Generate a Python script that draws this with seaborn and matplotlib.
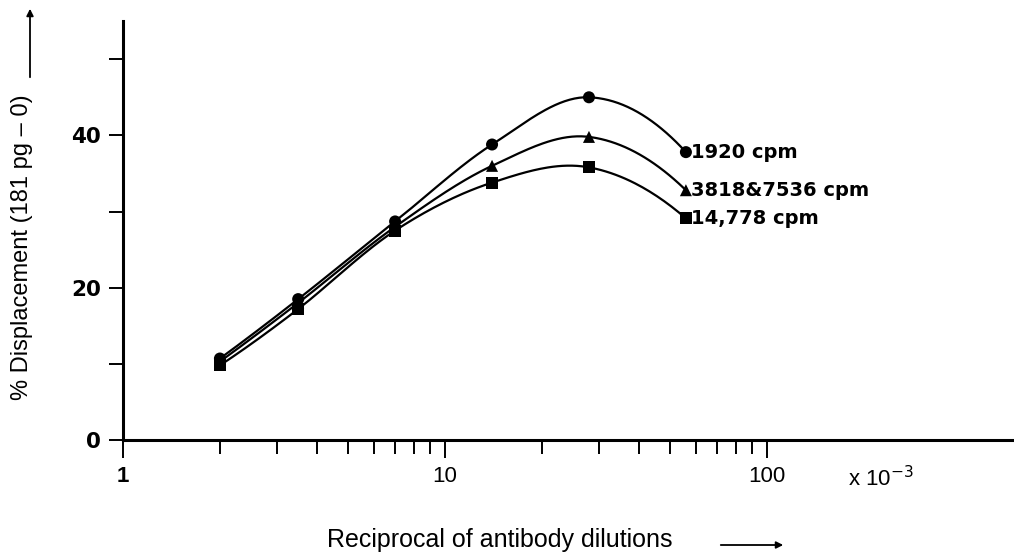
import numpy as np
import pandas as pd
import matplotlib
matplotlib.use("Agg")
import matplotlib.pyplot as plt
import seaborn as sns

# Reciprocal of antibody dilution (x 10^-3) and % displacement for each tracer count
dilution = [2, 3.5, 7, 14, 28, 56]
disp_1920 = [10.7, 18.5, 28.7, 38.8, 45.0, 37.8]
disp_3818_7536 = [10.3, 18.0, 28.0, 36.0, 39.8, 32.8]
disp_14778 = [9.8, 17.2, 27.5, 33.8, 35.8, 29.1]

series_names = ["1920 cpm", "3818&7536 cpm", "14,778 cpm"]
series_values = [disp_1920, disp_3818_7536, disp_14778]
series_markers = ["o", "^", "s"]

y_ticks = [0, 10, 20, 30, 40, 50]
y_ticklabels = ["0", "", "20", "", "40", ""]
x_ticks = [1, 10, 100]
x_ticklabels = ["1", "10", "100"]

sns.set_theme(style="white", rc={
    "text.color": "black", "axes.labelcolor": "black",
    "xtick.color": "black", "ytick.color": "black",
    "axes.edgecolor": "black",
})
plt.rcParams["font.family"] = ["Liberation Sans", "DejaVu Sans"]


def smooth_curve(x, y, n=40):
    """Catmull-Rom curve through the points, in log10(x) space,
    with quadratic end extrapolation so the end arcs keep their bend."""
    u = np.log10(np.asarray(x, float))
    v = np.asarray(y, float)
    pu = np.concatenate([[3 * u[0] - 3 * u[1] + u[2]], u,
                         [3 * u[-1] - 3 * u[-2] + u[-3]]])
    pv = np.concatenate([[3 * v[0] - 3 * v[1] + v[2]], v,
                         [3 * v[-1] - 3 * v[-2] + v[-3]]])
    out_u, out_v = [], []
    t = np.linspace(0, 1, n, endpoint=False)
    for i in range(1, len(pu) - 2):
        for arr, out in ((pu, out_u), (pv, out_v)):
            p0, p1, p2, p3 = arr[i - 1], arr[i], arr[i + 1], arr[i + 2]
            out.extend(0.5 * ((2 * p1) + (-p0 + p2) * t
                              + (2 * p0 - 5 * p1 + 4 * p2 - p3) * t ** 2
                              + (-p0 + 3 * p1 - 3 * p2 + p3) * t ** 3))
    out_u.append(u[-1])
    out_v.append(v[-1])
    return 10 ** np.array(out_u), np.array(out_v)


points = pd.DataFrame(
    [(d, val, name) for name, vals in zip(series_names, series_values)
     for d, val in zip(dilution, vals)],
    columns=["dilution", "displacement", "series"],
)

curve_rows = []
for name, vals in zip(series_names, series_values):
    cx, cy = smooth_curve(dilution, vals)
    curve_rows += [(a, b, name) for a, b in zip(cx, cy)]
curves = pd.DataFrame(curve_rows, columns=["dilution", "displacement", "series"])

fig = plt.figure(figsize=(10.14, 5.56), dpi=100)
ax = fig.add_axes([0.1213, 0.2086, 0.8787, 0.7534])

sns.lineplot(data=curves, x="dilution", y="displacement", units="series",
             estimator=None, sort=False, color="black", linewidth=1.6, ax=ax)
sns.scatterplot(data=points, x="dilution", y="displacement", style="series",
                markers=dict(zip(series_names, series_markers)),
                color="black", s=75, edgecolor="black", linewidth=0,
                legend=False, ax=ax, zorder=3)

ax.set_xscale("log")
ax.set_xlim(1, 585)
ax.set_ylim(0, 55)

for side in ("top", "right"):
    ax.spines[side].set_visible(False)
for side in ("left", "bottom"):
    ax.spines[side].set_linewidth(2.2)
    ax.spines[side].set_color("black")

ax.set_yticks(y_ticks)
ax.set_yticklabels(y_ticklabels, fontsize=15.5, fontweight="bold",
                   family=["DejaVu Sans"])
ax.set_xticks(x_ticks)
ax.set_xticklabels(x_ticklabels, fontsize=16)
ax.get_xticklabels()[0].set_fontweight("bold")
ax.xaxis.set_minor_locator(matplotlib.ticker.FixedLocator(
    [m * 10 ** e for e in (0, 1) for m in range(2, 10)]))
ax.xaxis.set_minor_formatter(matplotlib.ticker.NullFormatter())
ax.tick_params(axis="y", direction="out", length=10, width=1.4, pad=6,
               left=True)
ax.tick_params(axis="x", which="major", direction="out", length=13, width=1.4,
               pad=6, bottom=True)
ax.tick_params(axis="x", which="minor", direction="out", length=10, width=1.4,
               bottom=True)
ax.set_xlabel("")
ax.set_ylabel("")

ax.text(178, -3.4, "x 10$^{-3}$", fontsize=16, ha="left", va="top")

# Series labels next to the last points
for name, vals in zip(series_names, series_values):
    ax.annotate(name, (dilution[-1], vals[-1]), xytext=(4, 0),
                textcoords="offset points", ha="left", va="center",
                fontsize=14, fontweight="bold", family=["DejaVu Sans"])

fig.text(500 / 1014, 1 - 540 / 556, "Reciprocal of antibody dilutions",
         ha="center", va="center", fontsize=18)
fig.add_artist(matplotlib.patches.FancyArrowPatch(
    (718 / 1014, 1 - 545 / 556), (786 / 1014, 1 - 545 / 556),
    transform=fig.transFigure, arrowstyle="-|>", mutation_scale=10,
    color="black", linewidth=1.3))

fig.text(22 / 1014, 1 - 247 / 556, "% Displacement (181 pg \u2013 0)",
         rotation=90, ha="center", va="center", fontsize=17)
fig.add_artist(matplotlib.patches.FancyArrowPatch(
    (30 / 1014, 1 - 80 / 556), (30 / 1014, 1 - 6 / 556),
    transform=fig.transFigure, arrowstyle="-|>", mutation_scale=10,
    color="black", linewidth=1.3))

fig.savefig("out.png", dpi=100, facecolor="white")
